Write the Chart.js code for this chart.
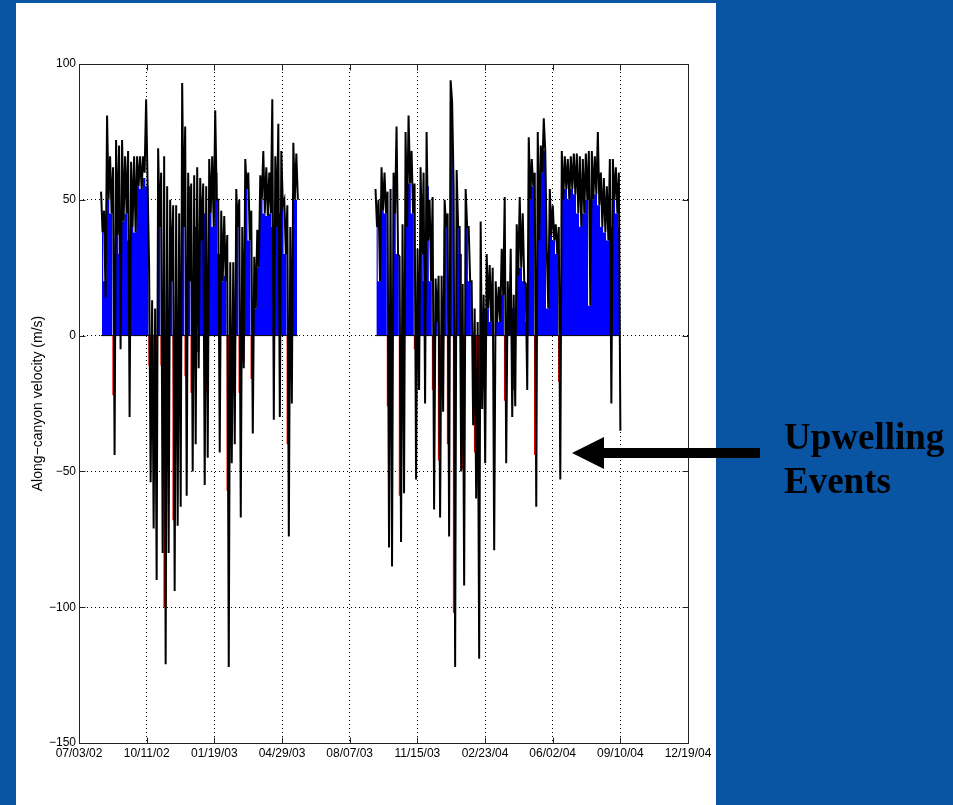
<!DOCTYPE html>
<html>
<head>
<meta charset="utf-8">
<script src="https://cdn.jsdelivr.net/npm/chart.js@4.4.1/dist/chart.umd.min.js"></script>
<style>
  html, body { margin: 0; padding: 0; }
  body { width: 953px; height: 805px; background: #0a54a4; position: relative; overflow: hidden; }
  #panel { position: absolute; left: 16px; top: 3px; width: 700px; height: 802px; background: #fff; }
  #chart { position: absolute; left: 0; top: 0; }
  #arrow { position: absolute; left: 0; top: 0; }
  #label { position: absolute; left: 784px; top: 415px; font: bold 37px "Liberation Serif", "Times New Roman", serif; line-height: 44px; color: #000; }
</style>
</head>
<body>
<div id="panel"><canvas id="chart" width="700" height="802"></canvas></div>
<svg id="arrow" width="953" height="805">
  <rect x="600" y="448" width="160" height="10" fill="#000"/>
  <polygon points="572,453 604,437 604,469" fill="#000"/>
</svg>
<div id="label">Upwelling<br>Events</div>
<script>
// days since 07/03/02, ticks every 100 days
const xTickLabels = ['07/03/02', '10/11/02', '01/19/03', '04/29/03', '08/07/03',
                     '11/15/03', '02/23/04', '06/02/04', '09/10/04', '12/19/04'];
const yTickLabels = ['\u2212150', '\u2212100', '\u221250', '0', '50', '100'];

// along-canyon velocity per ~4.4 day bin:
// high / low of the raw (black) record, and the level of the coloured area
const binDays = 4.44;
const deploy1Start = 32.6;
const deploy1High = [53, 46, 81, 66, 62, 72, 70, 72, 66, 68, 64, 66, 66, 66, 66, 87,
                     25, 13, 10, 69, 60, 66, 55, 50, 48, 48, 45, 93, 77, 60, 56, 59,
                     62, 58, 56, 55, 65, 66, 83, 50, 46, 44, 37, 27, 27, 54, 50, 40,
                     65, 60, 46, 29, 39, 59, 68, 62, 60, 87, 66, 78, 68, 50, 48, 40,
                     71, 67];
const deploy1Low  = [38, 14, 50, 45, -44, 37, -5, 42, 45, -30, 40, 38, 55, 54, 60, 55,
                     -54, -71, -90, 40, -80, -121, -80, 20, -94, -70, -63, 40, -59, 20, -50, -40,
                     -12, 35, -55, -45, 45, 40, 50, -43, 20, 20, -122, -47, -40, 40, -67, -12,
                     54, 35, -36, 10, 25, 50, 45, 44, 45, -31, 40, -30, 48, 30, -74, -25,
                     50, 50];
const deploy1Area = [38, 20, 50, 45, -22, 37, 30, 42, 45, 35, 40, 38, 55, 54, 58, 55,
                     -11, -24, -24, 46, -11, -100, -30, 40, -68, -20, 12, 40, -15, 55, -21, 40,
                     -6, 45, 45, -21, 45, 40, 60, 30, 20, 22, -57, -20, 10, 40, -21, -10,
                     54, 35, -16, 10, 25, 50, 45, 44, 45, 40, 40, 45, 48, 30, -40, 5,
                     50, 50];

const deploy2Start = 438.2;
const deploy2High = [54, 50, 62, 60, 53, 54, 60, 77, 29, 41, 75, 81, 68, 56, 32, 62,
                     60, 75, 50, 51, 21, 22, 22, 50, 45, 94, 55, 61, 40, 19, 54, 40,
                     20, 10, 5, 42, 15, 30, 26, 25, 20, 18, 32, 51, 20, 32, 15, 41,
                     51, 45, 19, 73, 65, 60, 75, 70, 80, 32, 54, 48, 41, 40, 68, 66,
                     65, 66, 67, 67, 66, 65, 67, 68, 68, 66, 75, 60, 58, 55, 65, 65,
                     62, 60];
const deploy2Low  = [40, 20, 46, 45, -78, -85, 45, 30, -76, -58, 40, 56, 45, -53, -20, 30,
                     -25, 35, 20, -64, 5, -67, -28, 40, -74, 86, -122, 40, -50, -92, 40, 20,
                     -33, -60, -119, -27, -47, 10, 5, -79, 5, 5, 15, -47, 0, -30, -26, 22,
                     25, 20, -20, 50, 55, -63, 35, 60, 68, 10, 37, 35, 30, -53, 50, 54,
                     50, 54, 52, 45, 40, 45, 50, 11, 50, 52, 48, 40, 38, 35, -25, 50,
                     45, -35];
const deploy2Area = [40, 20, 46, 45, -26, -10, 55, 30, -59, -5, 40, 56, 45, -5, 20, 30,
                     20, 55, 20, -20, 5, -46, 0, 40, -40, 86, -102, 40, 30, -49, 40, 20,
                     0, -43, -43, 5, 10, 10, 5, 0, 5, 5, 15, -24, 0, 10, -20, 22,
                     25, 20, 5, 50, 55, -44, 50, 60, 68, 10, 37, 35, 30, -17, 50, 54,
                     50, 54, 52, 45, 40, 45, 50, 11, 50, 52, 48, 40, 38, 35, 40, 50,
                     45, 40];

function rawPoints(start, high, low) {
  const pts = [];
  for (let i = 0; i < high.length; i++) {
    pts.push({ x: start + i * binDays, y: high[i] });
    pts.push({ x: start + i * binDays + binDays / 2, y: low[i] });
  }
  return pts;
}

function areaPoints(start, area) {
  return area.map((v, i) => ({ x: start + i * binDays + binDays / 4, y: v }));
}

function rawDataset(start, high, low) {
  return {
    data: rawPoints(start, high, low),
    borderColor: '#000',
    borderWidth: 2,
    pointRadius: 0,
    tension: 0,
    fill: false,
    order: 1
  };
}

function areaDataset(start, area) {
  return {
    data: areaPoints(start, area),
    borderWidth: 0,
    borderColor: 'rgba(0,0,0,0)',
    pointRadius: 0,
    stepped: 'middle',
    fill: { target: 'origin', above: '#0000ff', below: '#ff0000' },
    order: 3
  };
}

function baselineDataset(start, high) {
  return {
    data: [{ x: start, y: 0 }, { x: start + (high.length - 0.5) * binDays, y: 0 }],
    borderColor: '#000',
    borderWidth: 1,
    pointRadius: 0,
    fill: false,
    order: 2
  };
}

// axes box with short inward ticks on all four sides
const framePlugin = {
  id: 'frame',
  afterDatasetsDraw(chart) {
    const { ctx, chartArea: a, scales } = chart;
    const L = Math.round(a.left) + 0.5, T = Math.round(a.top) + 0.5;
    const R = Math.round(a.right) + 0.5, B = Math.round(a.bottom) + 0.5;
    ctx.save();
    ctx.strokeStyle = '#222';
    ctx.lineWidth = 1;
    ctx.strokeRect(L, T, R - L, B - T);
    ctx.beginPath();
    scales.x.ticks.forEach(t => {
      const px = Math.round(scales.x.getPixelForValue(t.value)) + 0.5;
      ctx.moveTo(px, B); ctx.lineTo(px, B - 6);
      ctx.moveTo(px, T); ctx.lineTo(px, T + 6);
    });
    scales.y.ticks.forEach(t => {
      const py = Math.round(scales.y.getPixelForValue(t.value)) + 0.5;
      ctx.moveTo(L, py); ctx.lineTo(L + 6, py);
      ctx.moveTo(R, py); ctx.lineTo(R - 6, py);
    });
    ctx.stroke();
    ctx.restore();
  }
};

new Chart(document.getElementById('chart').getContext('2d'), {
  type: 'line',
  data: {
    datasets: [
      rawDataset(deploy1Start, deploy1High, deploy1Low),
      rawDataset(deploy2Start, deploy2High, deploy2Low),
      baselineDataset(deploy1Start, deploy1High),
      baselineDataset(deploy2Start, deploy2High),
      areaDataset(deploy1Start, deploy1Area),
      areaDataset(deploy2Start, deploy2Area)
    ]
  },
  options: {
    responsive: false,
    animation: false,
    events: [],
    layout: { padding: { left: 0, right: 28, top: 61, bottom: 0 } },
    plugins: { legend: { display: false }, tooltip: { enabled: false } },
    scales: {
      x: {
        type: 'linear',
        min: 0,
        max: 900,
        afterFit: s => { s.height = 62; },
        ticks: {
          stepSize: 100,
          autoSkip: false,
          maxRotation: 0,
          padding: 3,
          color: '#000',
          font: { family: 'Liberation Sans', size: 12 },
          callback: (v, i) => xTickLabels[i]
        },
        grid: { color: '#000', lineWidth: 1, drawTicks: false },
        border: { display: false, dash: [1, 3] }
      },
      y: {
        min: -150,
        max: 100,
        afterFit: s => { s.width = 63; },
        ticks: {
          stepSize: 50,
          padding: 3,
          color: '#000',
          font: { family: 'Liberation Sans', size: 12 },
          callback: (v, i) => yTickLabels[i]
        },
        grid: { color: '#000', lineWidth: 1, drawTicks: false },
        border: { display: false, dash: [1, 3] },
        title: {
          display: true,
          text: 'Along\u2212canyon velocity (m/s)',
          color: '#000',
          font: { family: 'Liberation Sans', size: 14 },
          padding: { top: 14, bottom: 0 }
        }
      }
    }
  },
  plugins: [framePlugin]
});
</script>
</body>
</html>
